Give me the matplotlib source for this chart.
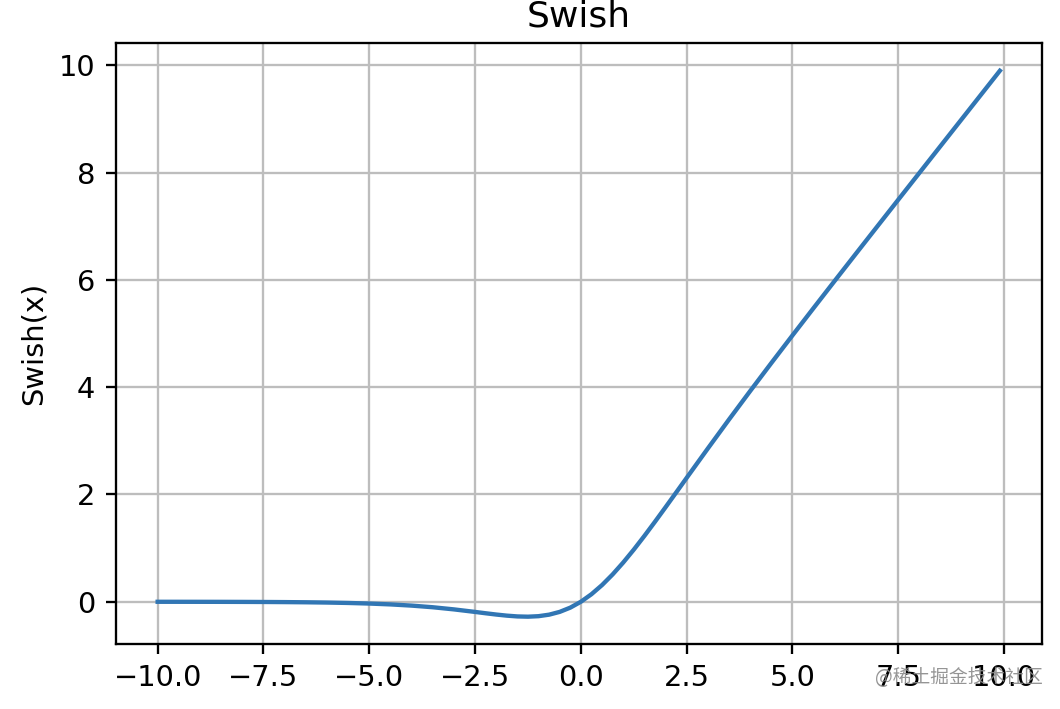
import matplotlib.pyplot as plt

# values
x_vals = [-10.0, -9.5, -9.0, -8.5, -8.0, -7.5, -7.0, -6.5, -6.0, -5.5,
          -5.0, -4.5, -4.0, -3.5, -3.0, -2.5, -2.25, -2.0, -1.75, -1.5,
          -1.25, -1.0, -0.75, -0.5, -0.25, 0.0, 0.25, 0.5, 0.75, 1.0,
          1.25, 1.5, 1.75, 2.0, 2.25, 2.5, 3.0, 3.5, 4.0, 4.5,
          5.0, 5.5, 6.0, 6.5, 7.0, 7.5, 8.0, 8.5, 9.0, 9.5, 9.9]
y_vals = [-0.0005, -0.0007, -0.0011, -0.0017, -0.0027, -0.0041, -0.0064, -0.0098, -0.0148, -0.0224,
          -0.0335, -0.0494, -0.0719, -0.1023, -0.1423, -0.1896, -0.2146, -0.2384, -0.2590, -0.2736,
          -0.2784, -0.2689, -0.2406, -0.1888, -0.1095, 0.0, 0.1405, 0.3112, 0.5094, 0.7311,
          0.9716, 1.2264, 1.4910, 1.7616, 2.0354, 2.3104, 2.8577, 3.3977, 3.9281, 4.4506,
          4.9665, 5.4776, 5.9852, 6.4902, 6.9936, 7.4959, 7.9973, 8.4983, 8.9989, 9.4993, 9.8995]

dpi = 208
fig = plt.figure(figsize=(1060 / dpi, 709 / dpi), dpi=dpi)
ax = fig.add_axes([0.109, 0.0917, 0.874, 0.847])
ax.plot(x_vals, y_vals, color="#3176b4")
ax.set_title("Swish", fontsize=12.5)
ax.set_xlabel("x")
ax.set_ylabel("Swish(x)")
ax.grid(True, color="#bdbdbd")

# site watermark, bottom right
fig.text(0.905, 0.044, "@稀土掘金技术社区", ha="center", va="center", fontsize=6.5,
         color="#8a8a8a", alpha=0.9, family=["Noto Sans CJK SC", "DejaVu Sans"])

fig.savefig("out.png", dpi=dpi)
